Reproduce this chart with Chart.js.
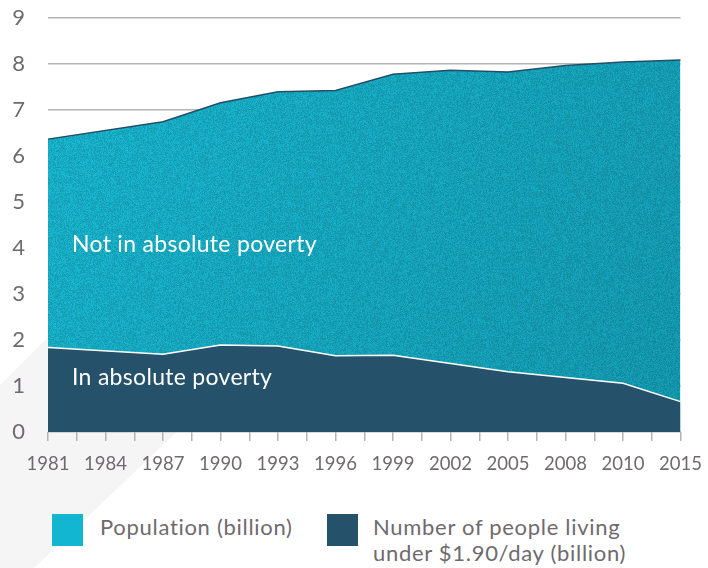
<!DOCTYPE html>
<html lang="en">

<head>
    <meta charset="UTF-8">
    <title>Population and absolute poverty</title>
    <script src="https://cdn.jsdelivr.net/npm/chart.js"></script>
    <style>
        body {
            margin: 0;
            padding: 0;
            background: #fff;
            font-family: Lato, "Open Sans", sans-serif;
        }

        .wrap {
            position: relative;
            width: 708px;
            height: 568px;
            overflow: hidden;
        }

        /* faint background band in the lower left */
        .band {
            position: absolute;
            left: 0;
            top: 0;
            width: 708px;
            height: 568px;
            background: #f5f5f6;
            clip-path: polygon(0 385px, 185px 200px, 420px 200px, 34px 568px, 0 568px);
        }

        canvas {
            position: absolute;
            left: 0;
            top: -18px;
        }

        .legend {
            position: absolute;
            top: 514px;
            font-size: 22px;
            line-height: 26px;
            letter-spacing: 0.7px;
            color: #6f6a6e;
        }

        .legend .box {
            position: absolute;
            top: 0;
            width: 31px;
            height: 32px;
        }

        .legend .txt {
            position: absolute;
            top: 0px;
            white-space: nowrap;
        }
    </style>
</head>

<body>
    <div class="wrap">
        <div class="band"></div>
        <canvas id="povertyChart" width="714" height="496"></canvas>
        <div class="legend" style="left:52px">
            <div class="box" style="left:0;background:#12b6d0"></div>
            <div class="txt" style="left:48px">Population (billion)</div>
        </div>
        <div class="legend" style="left:327px">
            <div class="box" style="left:0;background:#25516a"></div>
            <div class="txt" style="left:46px">Number of people living<br>under $1.90/day (billion)</div>
        </div>
    </div>

    <script>
        // x categories (every other slot is an unlabeled tick)
        const years = ['1981', '', '1984', '', '1987', '', '1990', '', '1993', '', '1996', '',
            '1999', '', '2002', '', '2005', '', '2008', '', '2010', '', '2015'];

        // Population (billion)
        const population = [6.37, null, null, null, 6.75, null, 7.16, null, 7.40, null, 7.43, null,
            7.78, null, 7.87, null, 7.83, null, 7.97, null, 8.05, null, 8.09];

        // Number of people living under $1.90/day (billion)
        const poverty = [1.84, null, null, null, 1.69, null, 1.89, null, 1.87, null, 1.66, null,
            1.67, null, null, null, 1.31, null, null, null, 1.06, null, 0.66];

        const yTicks = [0, 1, 2, 3, 4, 5, 6, 7, 8, 9];

        const textGray = '#6f6a6e';

        // speckled cyan texture for the population area
        function makeTexture(w, h) {
            const c = document.createElement('canvas');
            c.width = w;
            c.height = h;
            const g = c.getContext('2d');
            const grad = g.createLinearGradient(0, 0, w, h * 0.8);
            grad.addColorStop(0, '#19b9d2');
            grad.addColorStop(1, '#1399b0');
            g.fillStyle = grad;
            g.fillRect(0, 0, w, h);
            const img = g.getImageData(0, 0, w, h);
            let seed = 12345;
            function rnd() {
                seed = (seed * 1103515245 + 12345) & 0x7fffffff;
                return seed / 0x7fffffff;
            }
            for (let i = 0; i < img.data.length; i += 4) {
                const k = 0.86 + rnd() * 0.2;
                img.data[i] = Math.min(255, img.data[i] * k);
                img.data[i + 1] = Math.min(255, img.data[i + 1] * k);
                img.data[i + 2] = Math.min(255, img.data[i + 2] * k);
            }
            g.putImageData(img, 0, 0);
            return c;
        }

        const ctx = document.getElementById('povertyChart').getContext('2d');
        const texture = ctx.createPattern(makeTexture(714, 496), 'no-repeat');

        // white labels inside the areas
        const areaLabels = {
            id: 'areaLabels',
            afterDatasetsDraw(chart) {
                const { ctx, scales } = chart;
                const x0 = scales.x.getPixelForValue(0) + 24;
                ctx.save();
                ctx.fillStyle = '#ffffff';
                ctx.font = '23px Lato, "Open Sans", sans-serif';
                ctx.letterSpacing = '0.3px';
                ctx.textBaseline = 'middle';
                ctx.fillText('Not in absolute poverty', x0, scales.y.getPixelForValue(4.08));
                ctx.fillText('In absolute poverty', x0, scales.y.getPixelForValue(1.19));
                ctx.restore();
            }
        };

        new Chart(ctx, {
            type: 'line',
            data: {
                labels: years,
                datasets: [{
                    label: 'Population (billion)',
                    data: population,
                    order: 2,
                    fill: 'origin',
                    backgroundColor: texture,
                    borderColor: '#234e66',
                    borderWidth: 1.5,
                    pointRadius: 0,
                    tension: 0,
                    spanGaps: true
                }, {
                    label: 'Number of people living under $1.90/day (billion)',
                    data: poverty,
                    order: 1,
                    fill: 'origin',
                    backgroundColor: '#25516a',
                    borderColor: '#ffffff',
                    borderWidth: 1.5,
                    pointRadius: 0,
                    tension: 0,
                    spanGaps: true
                }]
            },
            options: {
                responsive: false,
                animation: false,
                layout: {
                    padding: { left: 10, right: 22, top: 12, bottom: 0 }
                },
                plugins: {
                    legend: { display: false },
                    tooltip: { enabled: false }
                },
                scales: {
                    x: {
                        offset: false,
                        border: { display: false },
                        grid: {
                            drawOnChartArea: false,
                            tickLength: 9,
                            color: '#b4b4b4',
                            lineWidth: 1.5
                        },
                        ticks: {
                            autoSkip: false,
                            maxRotation: 0,
                            padding: 12,
                            color: textGray,
                            font: { family: 'Lato, "Open Sans", sans-serif', size: 18.5 }
                        },
                        afterFit(axis) {
                            axis.height = 46;
                        }
                    },
                    y: {
                        min: 0,
                        max: 9,
                        border: { display: false },
                        afterBuildTicks(axis) {
                            axis.ticks = yTicks.map(v => ({ value: v }));
                        },
                        afterFit(axis) {
                            axis.width = 38;
                        },
                        grid: {
                            tickLength: 0,
                            color: '#b4b4b4',
                            lineWidth: 1.5
                        },
                        ticks: {
                            padding: 23,
                            color: textGray,
                            font: { family: 'Lato, "Open Sans", sans-serif', size: 22 }
                        }
                    }
                }
            },
            plugins: [areaLabels]
        });
    </script>
</body>

</html>
